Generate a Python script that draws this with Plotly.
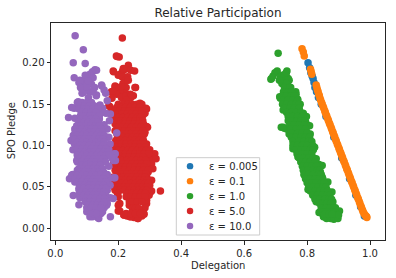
import plotly.graph_objects as go

eps_names = ["ε = 0.005", "ε = 0.1", "ε = 1.0", "ε = 5.0", "ε = 10.0"]
colors = ["#1f77b4", "#ff7f0e", "#2ca02c", "#d62728", "#9467bd"]

blue_pts = [(.803,.200),(.808,.194),(.812,.188),(.816,.184),(.819,.181),(.822,.176),(.825,.170),(.830,.165),(.836,.158),(.845,.150),(.860,.135),(.885,.110),(.910,.085),(.935,.060),(.955,.040),(.970,.026),(.982,.015)]

orange_pts = [(.784,.217),(.788,.213),(.791,.208),(.811,.192),(.813,.189),(.815,.186),
 (.829,.173),(.831,.170),(.833,.167),(.835,.165),(.837,.162),(.839,.160),(.841,.157),(.843,.155),(.846,.152),(.848,.150),(.851,.147),(.853,.145),(.856,.142),(.858,.140),(.861,.137),(.863,.135),(.866,.132),(.868,.130),(.871,.127),(.873,.125),(.876,.122),(.878,.120),(.881,.117),(.883,.115),(.886,.112),(.888,.110),(.891,.107),(.893,.105),(.896,.102),(.898,.100),(.901,.097),(.903,.095),(.906,.092),(.908,.090),(.911,.087),(.913,.085),(.916,.082),(.918,.080),(.921,.077),(.923,.075),(.926,.072),(.928,.070),(.931,.067),(.933,.065),(.936,.062),(.938,.060),(.941,.057),(.943,.055),(.946,.052),(.948,.050),(.951,.047),(.953,.045),(.956,.042),(.958,.040),(.961,.037),(.963,.035),(.966,.032),(.968,.030),(.971,.027),(.973,.025),(.976,.022),(.978,.020),(.981,.018),(.984,.016),(.987,.015),(.989,.014),(.990,.013)]

green_pts = [(.708,.2115),(.685,.180),(.692,.184),(.698,.188),(.705,.190),(.732,.187),(.736,.190),(.716,.183),(.722,.185),(.728,.178),(.712,.179),(.740,.181),(.738,.176),(.748,.170),(.755,.164),(.715,.157),(.762,.162),(.765,.162),(.770,.156),(.778,.150),(.788,.139),(.795,.129),(.718,.122),(.728,.121),(.800,.125),(.735,.120),(.798,.117),(.802,.111),(.805,.102),(.812,.088),(.822,.083),(.828,.078),(.838,.077),(.842,.068),(.848,.062),(.855,.054),(.862,.047),(.870,.035),(.878,.030),(.886,.024),(.888,.021),(.892,.017),(.893,.013),(.885,.011),(.875,.012),(.862,.012),(.852,.014),(.848,.018),(.842,.020),(.826,.047),
 (.734,.188),(.743,.179),(.764,.165),(.771,.151),(.798,.135),(.808,.124),(.810,.114),(.824,.098),(.829,.084),(.848,.076),(.866,.056),(.879,.044),(.882,.032),(.903,.021),(.898,.012),(.687,.181),(.713,.159),(.724,.143),(.724,.122),(.743,.114),(.755,.096),(.771,.086),(.792,.064),(.803,.047),(.829,.032),(.838,.019),(.856,.014),(.895,.020),(.890,.025),(.900,.016)]
green_rows = [(.175,[.72,.735]),(.170,[.728,.745]),(.165,[.725,.74,.75]),(.160,[.722,.735,.75,.76]),(.155,[.725,.74,.755,.77]),(.150,[.722,.735,.75,.765,.775]),(.145,[.73,.745,.76,.775]),(.140,[.735,.75,.765,.78]),(.135,[.74,.755,.77,.785]),(.130,[.74,.752,.768,.782,.792]),(.125,[.745,.76,.775,.79]),(.120,[.748,.765,.78,.795]),(.115,[.75,.77,.785,.80]),(.110,[.75,.765,.78,.795,.808]),(.105,[.755,.775,.79,.805,.815]),(.100,[.755,.77,.785,.80,.818]),(.095,[.765,.78,.795,.81,.82]),(.090,[.768,.785,.80,.815]),(.085,[.775,.79,.805,.82]),(.080,[.78,.795,.81,.825]),(.075,[.785,.80,.815,.83]),(.070,[.788,.803,.818,.833,.84]),(.065,[.79,.805,.82,.835,.845]),(.060,[.795,.81,.825,.84,.85]),(.055,[.80,.815,.83,.845,.855]),(.050,[.805,.82,.835,.85,.86]),(.045,[.81,.825,.84,.855,.865]),(.040,[.818,.833,.848,.863,.872]),(.035,[.825,.84,.855,.87,.878]),(.030,[.84,.85,.862,.875]),(.025,[.845,.86,.875,.885]),(.020,[.85,.865,.88]),(.017,[.855,.87,.88])]

red_pts = [(.213,.230),(.203,.207),(.196,.2075),(.194,.208),(.232,.197),(.222,.192),(.214,.190),(.205,.186),(.240,.191),(.252,.190),(.185,.189),(.200,.185),(.212,.183),(.222,.178),(.230,.183),(.200,.170),(.215,.175),(.225,.170),(.190,.172),(.178,.165),(.192,.166),(.212,.165),(.228,.162),(.255,.170),(.180,.157),(.195,.162),(.210,.158),(.225,.160),(.238,.162),(.240,.158),(.170,.148),(.182,.142),(.275,.150),(.290,.144),(.285,.139),(.265,.148),(.248,.160),(.290,.123),(.285,.116),(.305,.090),(.310,.086),(.295,.084),(.305,.082),(.300,.075),(.290,.063),(.298,.058),(.334,.045),(.302,.044),(.275,.035),(.290,.030),(.285,.025),(.282,.017),(.275,.015),(.262,.012),(.250,.013),(.240,.014),(.228,.015),(.218,.016),(.205,.021),(.205,.030),(.200,.028),(.235,.028),(.255,.027),
 (.269,.151),(.288,.145),(.279,.137),(.293,.122),(.279,.112),(.290,.102),(.295,.092),(.316,.090),(.320,.084),(.306,.078),(.295,.068),(.306,.058),(.306,.045),(.290,.034),(.281,.018),(.263,.012),(.237,.014),(.218,.016),(.200,.021),(.203,.029),(.216,.193),(.232,.179),(.184,.190),(.190,.171),(.253,.170),(.184,.166),(.210,.171),(.242,.161),(.173,.147),(.179,.143),(.226,.155),(.300,.095),(.310,.072),(.300,.052),(.298,.040)]
red_rows = [(.150,[.20,.215,.23,.245,.26]),(.146,[.195,.208,.223,.238,.253,.268]),(.142,[.19,.205,.22,.235,.25,.265,.275]),(.138,[.192,.212,.227,.242,.257,.272]),(.134,[.185,.20,.215,.23,.245,.26,.27]),(.130,[.193,.208,.223,.238,.253,.268,.278]),(.126,[.19,.205,.22,.235,.25,.265,.28]),(.122,[.197,.212,.227,.242,.257,.272]),(.118,[.19,.205,.22,.235,.25,.265,.278]),(.114,[.196,.211,.226,.241,.256,.271,.283]),(.110,[.20,.215,.23,.245,.26,.275]),(.106,[.192,.207,.222,.237,.252,.267,.28]),(.102,[.195,.21,.225,.24,.255,.27,.283]),(.098,[.193,.208,.223,.238,.253,.268,.285]),(.094,[.185,.20,.215,.23,.245,.26,.275,.288]),(.090,[.193,.208,.223,.238,.253,.268,.283,.296]),(.086,[.19,.205,.22,.235,.25,.265,.28]),(.082,[.197,.212,.227,.242,.257,.272,.287]),(.078,[.185,.20,.215,.23,.245,.26,.275,.29]),(.074,[.193,.208,.223,.238,.253,.268,.283]),(.070,[.19,.205,.22,.235,.25,.265,.28,.295]),(.066,[.197,.212,.227,.242,.257,.272,.287]),(.062,[.185,.20,.215,.23,.245,.26,.275,.285]),(.058,[.192,.207,.222,.237,.252,.267,.282,.292]),(.054,[.18,.195,.21,.225,.24,.255,.27,.285,.295]),(.050,[.187,.202,.217,.232,.247,.262,.277,.29]),(.046,[.19,.205,.22,.235,.25,.265,.28,.29]),(.042,[.198,.228,.243,.258,.273,.286]),(.038,[.20,.225,.24,.255,.27,.285]),(.032,[.235,.245,.26,.275]),(.024,[.245,.255,.265]),(.018,[.225,.24,.255,.27])]

purple_pts = [(.063,.2325),(.089,.2157),(.057,.200),(.095,.199),(.126,.1916),(.118,.189),(.110,.186),(.103,.184),(.060,.182),(.085,.178),(.095,.180),(.075,.176),(.090,.172),(.115,.174),(.080,.170),(.100,.175),(.148,.172),(.155,.167),(.160,.163),(.100,.168),(.110,.165),(.090,.165),(.085,.163),(.105,.158),(.130,.160),(.165,.154),(.060,.145),(.042,.134),(.062,.133),(.175,.138),(.172,.130),(.195,.115),(.050,.106),(.060,.103),(.056,.095),(.190,.090),(.185,.082),(.162,.110),(.166,.100),(.175,.090),(.045,.060),(.055,.065),(.185,.061),(.057,.0395),(.075,.041),(.165,.046),(.175,.037),(.078,.037),(.075,.0285),(.100,.020),(.110,.014),(.122,.017),(.135,.013),(.145,.018),(.175,.014),(.150,.145),(.135,.147),(.140,.132),(.148,.118),
 (.052,.146),(.062,.120),(.057,.112),(.062,.102),(.070,.090),(.068,.082),(.070,.070),(.052,.064),(.062,.056),(.076,.046),(.131,.191),(.147,.173),(.131,.161),(.142,.149),(.161,.139),(.174,.102),(.189,.090),(.191,.082),(.189,.061),(.174,.052),(.184,.036),(.163,.028),(.138,.012),(.118,.014),(.112,.021),(.142,.018),(.110,.175),(.078,.179),(.084,.169),(.100,.171),(.073,.153),(.165,.120),(.155,.125),(.170,.110),(.170,.095),(.180,.085),(.170,.075),(.165,.065),(.170,.060),(.165,.055),(.160,.040),(.165,.030),(.155,.025),(.150,.020),(.145,.140),(.095,.185),(.120,.182),(.105,.178),(.125,.170),(.120,.165)]
purple_rows = [(.152,[.07,.085,.10,.115]),(.148,[.078,.093,.108,.123]),(.144,[.075,.09,.105,.12,.135]),(.140,[.083,.098,.113,.128]),(.136,[.08,.095,.11,.125,.14]),(.132,[.083,.098,.113,.128]),(.128,[.075,.09,.105,.12,.135]),(.124,[.068,.083,.098,.113,.128,.14]),(.120,[.07,.085,.10,.115,.13,.145]),(.116,[.063,.078,.093,.108,.123,.138,.15]),(.112,[.07,.085,.10,.115,.13,.145,.155]),(.108,[.063,.078,.093,.108,.123,.138,.152]),(.104,[.07,.085,.10,.115,.13,.145,.155]),(.100,[.078,.093,.108,.123,.138,.152]),(.096,[.07,.085,.10,.115,.13,.145,.16]),(.092,[.078,.093,.108,.123,.138,.153,.167]),(.088,[.07,.085,.10,.115,.13,.145,.16,.17]),(.084,[.078,.093,.108,.123,.138,.153]),(.080,[.07,.085,.10,.115,.13,.145,.16]),(.076,[.083,.098,.113,.128,.143]),(.072,[.075,.09,.105,.12,.135,.15]),(.068,[.078,.093,.108,.123,.138,.153]),(.064,[.07,.085,.10,.115,.13,.145,.16]),(.060,[.063,.078,.093,.108,.123,.138,.153]),(.056,[.07,.085,.10,.115,.13,.145,.16]),(.052,[.078,.093,.108,.123,.138,.153]),(.048,[.075,.09,.105,.12,.135,.15,.16]),(.044,[.083,.098,.113,.128,.143,.155]),(.040,[.09,.105,.12,.135,.15]),(.036,[.097,.112,.127,.142,.155]),(.032,[.095,.11,.125,.14,.155]),(.028,[.103,.118,.133,.148]),(.025,[.10,.115,.13,.145]),(.018,[.12,.13])]


def split(pts, rows=()):
    xs = [p[0] for p in pts]
    ys = [p[1] for p in pts]
    for y, row in rows:
        xs += row
        ys += [y] * len(row)
    return xs, ys


series = [split(blue_pts), split(orange_pts), split(green_pts, green_rows),
          split(red_pts, red_rows), split(purple_pts, purple_rows)]

fig = go.Figure()
for name, color, (xs, ys) in zip(eps_names, colors, series):
    fig.add_trace(go.Scatter(x=xs, y=ys, mode="markers", name=name, showlegend=False,
                             marker=dict(color=color, size=7.5, line=dict(width=0))))

INK = "#262626"
L, R, T, B = 51, 385.5, 22.5, 240
W, H = 396, 278


def px(x):
    return (x - L) / (R - L)


def py(y):
    return (B - y) / (B - T)


shapes = [dict(type="rect", xref="paper", yref="paper", x0=px(176.5), x1=px(260), y0=py(235), y1=py(157.5),
               line=dict(color="#cccccc", width=1), fillcolor="rgba(255,255,255,0.8)", layer="above")]
annotations = [
    dict(text="Delegation", xref="paper", yref="paper", x=px(218), y=py(266), xanchor="center", yanchor="middle",
         showarrow=False, font=dict(size=10, color=INK)),
    dict(text="SPO Pledge", xref="paper", yref="paper", x=px(11), y=py(131), xanchor="center", yanchor="middle",
         textangle=-90, showarrow=False, font=dict(size=10, color=INK)),
]
for i, (name, color) in enumerate(zip(eps_names, colors)):
    yc = 166 + i * 15
    shapes.append(dict(type="circle", xref="paper", yref="paper", x0=px(187), x1=px(193.5),
                       y0=py(yc + 3.2), y1=py(yc - 3.2), fillcolor=color, line=dict(width=0), layer="above"))
    annotations.append(dict(text=name, xref="paper", yref="paper", x=px(207.5), y=py(yc), xanchor="left",
                            yanchor="middle", showarrow=False, font=dict(size=10, color=INK)))

axis = dict(showgrid=False, zeroline=False, showline=True, mirror=True, linecolor=INK, automargin=False,
            linewidth=1, ticks="outside", ticklen=3.5, tickwidth=1, tickcolor=INK,
            tickfont=dict(size=10, color=INK))
fig.update_layout(
    width=W, height=H, autosize=False, plot_bgcolor="white", paper_bgcolor="white",
    font=dict(family="DejaVu Sans", color=INK),
    margin=dict(l=L, r=W - R, t=T, b=H - B, pad=0),
    title=dict(text="Relative Participation", x=218 / W, xanchor="center", xref="container",
               y=1 - 12.5 / H, yanchor="middle", font=dict(size=12, color=INK), automargin=False),
    xaxis=dict(axis, range=[-0.0137, 1.0476], tickvals=[0, .2, .4, .6, .8, 1.0],
               ticktext=["0.0", "0.2", "0.4", "0.6", "0.8", "1.0"]),
    yaxis=dict(axis, range=[-0.0141, 0.248], tickvals=[0, .05, .1, .15, .2],
               ticktext=["0.00", "0.05", "0.10", "0.15", "0.20"]),
    shapes=shapes, annotations=annotations, showlegend=False,
)
fig.write_html("out.html", config={"displayModeBar": False},
               post_script="document.body.style.margin='0';document.body.style.overflow='hidden';")
